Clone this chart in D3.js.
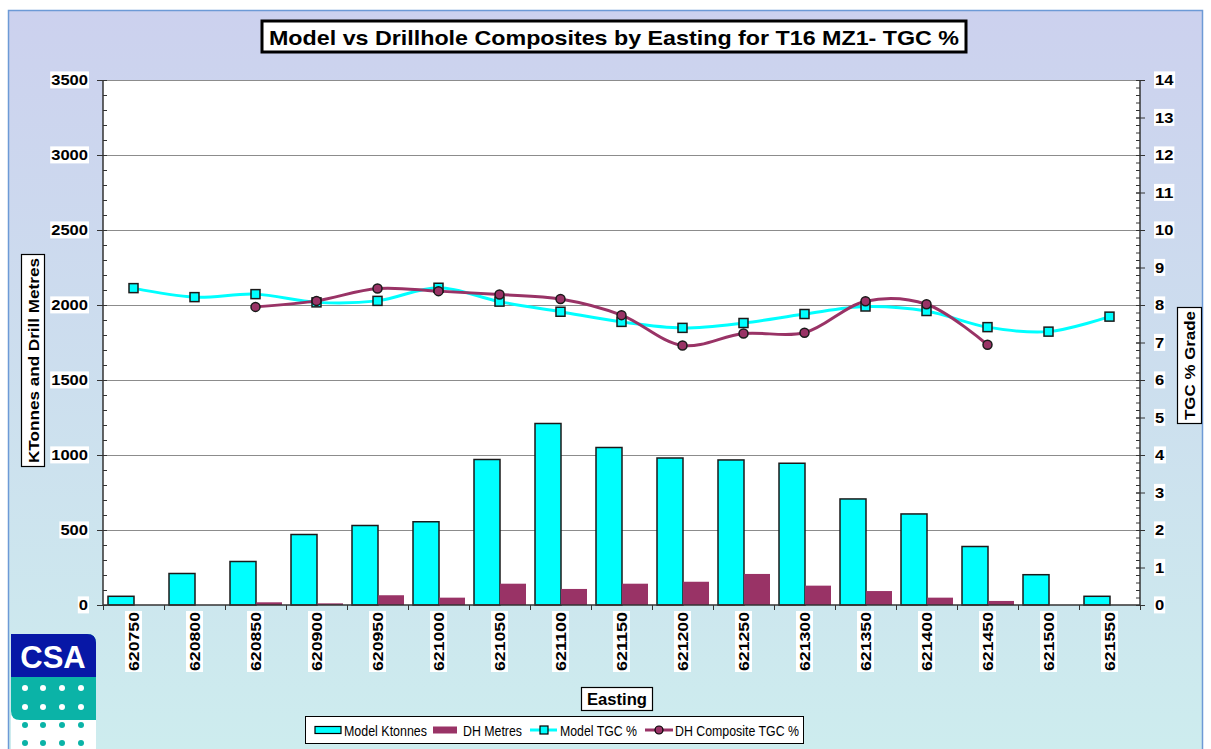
<!DOCTYPE html>
<html>
<head>
<meta charset="utf-8">
<script src="https://cdn.jsdelivr.net/npm/d3@7"></script>
<style>
  body { margin: 0; background: #fff; }
  svg { display: block; font-family: "Liberation Sans", Arial, sans-serif; }
</style>
</head>
<body>
<div id="chart"></div>
<script>
// data
var eastings = ["620750","620800","620850","620900","620950","621000","621050","621100","621150","621200","621250","621300","621350","621400","621450","621500","621550"];
var modelKt  = [58, 210, 290, 470, 530, 555, 970, 1210, 1050, 980, 967, 945, 707, 607, 390, 202, 58];
var dhMetres = [0, 0, 18, 11, 65, 49, 142, 107, 142, 155, 207, 129, 93, 49, 27, 0, 0];
var modelTgc = [8.45, 8.21, 8.29, 8.07, 8.11, 8.46, 8.09, 7.82, 7.55, 7.39, 7.52, 7.76, 7.96, 7.84, 7.41, 7.29, 7.69];
var dhTgc    = [null, null, 7.95, 8.11, 8.44, 8.37, 8.28, 8.16, 7.73, 6.92, 7.24, 7.26, 8.10, 8.02, 6.94, null, null];
var leftTicks = [0, 500, 1000, 1500, 2000, 2500, 3000, 3500];
var rightTicks = [0,1,2,3,4,5,6,7,8,9,10,11,12,13,14];

var W = 1211, H = 749;
var plot = {left: 103, right: 1140, top: 80, bottom: 605};

var svg = d3.select("#chart").append("svg")
    .attr("width", W)
    .attr("height", H);

var defs = svg.append("defs");
var grad = defs.append("linearGradient").attr("id", "bg").attr("x1", 0).attr("y1", 0).attr("x2", 0).attr("y2", 1);
grad.append("stop").attr("offset", "0%").attr("stop-color", "#ccd1ee");
grad.append("stop").attr("offset", "100%").attr("stop-color", "#cdedee");

// chart area background + border
svg.append("rect").attr("x", 0).attr("y", 0).attr("width", W).attr("height", H).attr("fill", "#fff");
svg.append("rect")
    .attr("x", 8.5).attr("y", 10.5)
    .attr("width", 1194).attr("height", 760)
    .attr("fill", "url(#bg)")
    .attr("stroke", "#6d9ad6").attr("stroke-width", 1.5);

// scales
var x = d3.scaleBand().domain(eastings).range([plot.left, plot.right]);
var yL = d3.scaleLinear().domain([0, 3500]).range([plot.bottom, plot.top]);
var yR = d3.scaleLinear().domain([0, 14]).range([plot.bottom, plot.top]);

svg.append("rect")
    .attr("x", plot.left).attr("y", plot.top)
    .attr("width", plot.right - plot.left).attr("height", plot.bottom - plot.top)
    .attr("fill", "#fff");

// gridlines
svg.append("g").selectAll("line")
    .data(leftTicks.filter(function(d) { return d > 0; }))
    .enter().append("line")
    .attr("x1", plot.left).attr("x2", plot.right)
    .attr("y1", function(d) { return yL(d) + 0.5; })
    .attr("y2", function(d) { return yL(d) + 0.5; })
    .attr("stroke", "#8c8c8c").attr("stroke-width", 1.2);

// bars
var bw = 26;
svg.append("g").selectAll("rect")
    .data(modelKt)
    .enter().append("rect")
    .attr("x", function(d, i) { return x(eastings[i]) + 5; })
    .attr("y", function(d) { return yL(d); })
    .attr("width", bw)
    .attr("height", function(d) { return plot.bottom - yL(d); })
    .attr("fill", "#00ffff")
    .attr("stroke", "#1a1a1a").attr("stroke-width", 1.5);

svg.append("g").selectAll("rect")
    .data(dhMetres)
    .enter().append("rect")
    .attr("x", function(d, i) { return x(eastings[i]) + 5 + bw; })
    .attr("y", function(d) { return yL(d); })
    .attr("width", bw)
    .attr("height", function(d) { return plot.bottom - yL(d); })
    .attr("fill", "#993366");

// white box behind tick labels
function tickLabelBg(sel) {
  sel.each(function() {
    var t = d3.select(this);
    var b = this.getBBox();
    d3.select(this.parentNode).insert("rect", function() { return t.node(); })
      .attr("x", b.x - 1).attr("y", b.y).attr("width", b.width + 2).attr("height", b.height)
      .attr("fill", "#fff");
  });
}

// stretch text to the width it has in the picture
function fit(sel, len) {
  sel.attr("textLength", len).attr("lengthAdjust", "spacingAndGlyphs");
}

var axisColor = "#333";
var axL = svg.append("g");
axL.append("line").attr("x1", plot.left).attr("x2", plot.left).attr("y1", plot.top).attr("y2", plot.bottom)
    .attr("stroke", axisColor).attr("stroke-width", 1.5);
axL.selectAll(".minor").data(d3.range(0, 3501, 100)).enter().append("line")
    .attr("x1", plot.left).attr("x2", plot.left + 4)
    .attr("y1", function(d) { return yL(d) + 0.5; }).attr("y2", function(d) { return yL(d) + 0.5; })
    .attr("stroke", axisColor);
axL.selectAll(".major").data(leftTicks).enter().append("line")
    .attr("x1", plot.left - 6).attr("x2", plot.left + 4)
    .attr("y1", function(d) { return yL(d) + 0.5; }).attr("y2", function(d) { return yL(d) + 0.5; })
    .attr("stroke", axisColor);
axL.selectAll("text").data(leftTicks).enter().append("g").append("text")
    .attr("x", 88).attr("y", function(d) { return yL(d); })
    .attr("dy", "0.36em")
    .attr("text-anchor", "end")
    .attr("font-size", 15).attr("font-weight", "bold")
    .attr("textLength", function(d) { return String(d).length * 9.2; })
    .attr("lengthAdjust", "spacingAndGlyphs")
    .text(function(d) { return d; })
    .call(tickLabelBg);

var axR = svg.append("g");
axR.append("line").attr("x1", plot.right).attr("x2", plot.right).attr("y1", plot.top).attr("y2", plot.bottom)
    .attr("stroke", axisColor).attr("stroke-width", 1.5);
axR.selectAll(".minor").data(d3.range(0, 71, 1)).enter().append("line")
    .attr("x1", plot.right - 4).attr("x2", plot.right)
    .attr("y1", function(d) { return yR(d / 5) + 0.5; }).attr("y2", function(d) { return yR(d / 5) + 0.5; })
    .attr("stroke", axisColor);
axR.selectAll(".major").data(rightTicks).enter().append("line")
    .attr("x1", plot.right - 4).attr("x2", plot.right + 5)
    .attr("y1", function(d) { return yR(d) + 0.5; }).attr("y2", function(d) { return yR(d) + 0.5; })
    .attr("stroke", axisColor);
axR.selectAll("text").data(rightTicks).enter().append("g").append("text")
    .attr("x", 1155).attr("y", function(d) { return yR(d); })
    .attr("dy", "0.36em")
    .attr("font-size", 15).attr("font-weight", "bold")
    .attr("textLength", function(d) { return String(d).length * 9.2; })
    .attr("lengthAdjust", "spacingAndGlyphs")
    .text(function(d) { return d; })
    .call(tickLabelBg);

var axB = svg.append("g");
axB.append("line").attr("x1", plot.left).attr("x2", plot.right).attr("y1", plot.bottom).attr("y2", plot.bottom)
    .attr("stroke", axisColor).attr("stroke-width", 1.5);
axB.selectAll(".tk").data(eastings.concat(["end"])).enter().append("line")
    .attr("x1", function(d, i) { return plot.left + i * x.step() + 0.5; })
    .attr("x2", function(d, i) { return plot.left + i * x.step() + 0.5; })
    .attr("y1", plot.bottom).attr("y2", plot.bottom + 5)
    .attr("stroke", axisColor);
axB.selectAll("g.lbl").data(eastings).enter().append("g")
    .attr("transform", function(d) { return "translate(" + (x(d) + x.bandwidth() / 2 + 5.5) + ",612) rotate(-90)"; })
    .append("text")
    .attr("text-anchor", "end")
    .attr("font-size", 15).attr("font-weight", "bold")
    .attr("textLength", 59)
    .attr("lengthAdjust", "spacingAndGlyphs")
    .text(function(d) { return d; })
    .call(tickLabelBg);

// lines
var curve = d3.curveCatmullRom.alpha(0.5);
var lineModel = d3.line()
    .x(function(d, i) { return x(eastings[i]) + x.bandwidth() / 2; })
    .y(function(d) { return yR(d); })
    .curve(curve);
svg.append("path")
    .attr("d", lineModel(modelTgc))
    .attr("fill", "none").attr("stroke", "#00ffff").attr("stroke-width", 3);

var dhPts = [];
dhTgc.forEach(function(d, i) { if (d != null) dhPts.push({e: eastings[i], v: d}); });
var lineDh = d3.line()
    .x(function(d) { return x(d.e) + x.bandwidth() / 2; })
    .y(function(d) { return yR(d.v); })
    .curve(curve);
svg.append("path")
    .attr("d", lineDh(dhPts))
    .attr("fill", "none").attr("stroke", "#993366").attr("stroke-width", 3);

svg.append("g").selectAll("rect")
    .data(modelTgc)
    .enter().append("rect")
    .attr("x", function(d, i) { return x(eastings[i]) + x.bandwidth() / 2 - 4.5; })
    .attr("y", function(d) { return yR(d) - 4.5; })
    .attr("width", 9).attr("height", 9)
    .attr("fill", "#00ffff").attr("stroke", "#1a1a1a").attr("stroke-width", 1.5);

svg.append("g").selectAll("circle")
    .data(dhPts)
    .enter().append("circle")
    .attr("cx", function(d) { return x(d.e) + x.bandwidth() / 2; })
    .attr("cy", function(d) { return yR(d.v); })
    .attr("r", 4.5)
    .attr("fill", "#993366").attr("stroke", "#1a1a1a").attr("stroke-width", 1.5);

// title
svg.append("rect").attr("x", 262).attr("y", 21).attr("width", 704).attr("height", 31)
    .attr("fill", "#fff").attr("stroke", "#000").attr("stroke-width", 3);
svg.append("text").attr("x", 614).attr("y", 44.5)
    .attr("text-anchor", "middle").attr("font-size", 21).attr("font-weight", "bold")
    .text("Model vs Drillhole Composites by Easting for T16 MZ1- TGC %")
    .call(fit, 690);

// axis titles
svg.append("rect").attr("x", 21.5).attr("y", 254.5).attr("width", 23).attr("height", 212)
    .attr("fill", "#fff").attr("stroke", "#000").attr("stroke-width", 1.2);
svg.append("text").attr("transform", "translate(39,360.5) rotate(-90)")
    .attr("text-anchor", "middle").attr("font-size", 15).attr("font-weight", "bold")
    .text("KTonnes and Drill Metres")
    .call(fit, 205);

svg.append("rect").attr("x", 1177.5).attr("y", 307.5).attr("width", 24).attr("height", 116)
    .attr("fill", "#fff").attr("stroke", "#000").attr("stroke-width", 1.2);
svg.append("text").attr("transform", "translate(1195,365.5) rotate(-90)")
    .attr("text-anchor", "middle").attr("font-size", 15).attr("font-weight", "bold")
    .text("TGC % Grade")
    .call(fit, 109);

svg.append("rect").attr("x", 581.5).attr("y", 687.5).attr("width", 71).attr("height", 23)
    .attr("fill", "#fff").attr("stroke", "#000").attr("stroke-width", 1.2);
svg.append("text").attr("x", 617).attr("y", 705)
    .attr("text-anchor", "middle").attr("font-size", 16).attr("font-weight", "bold")
    .text("Easting")
    .call(fit, 60);

// legend
var lg = svg.append("g");
lg.append("rect").attr("x", 305.5).attr("y", 716.5).attr("width", 498).attr("height", 27)
    .attr("fill", "#fff").attr("stroke", "#000").attr("stroke-width", 1);
var ly = 730;
lg.append("rect").attr("x", 315).attr("y", ly - 3.5).attr("width", 26).attr("height", 7)
    .attr("fill", "#00ffff").attr("stroke", "#000").attr("stroke-width", 1.2);
lg.append("text").attr("x", 344).attr("y", ly + 5.5).attr("font-size", 15).text("Model Ktonnes").call(fit, 83);
lg.append("rect").attr("x", 433).attr("y", ly - 3.5).attr("width", 24).attr("height", 7)
    .attr("fill", "#993366");
lg.append("text").attr("x", 463).attr("y", ly + 5.5).attr("font-size", 15).text("DH Metres").call(fit, 59);
lg.append("line").attr("x1", 530).attr("x2", 557).attr("y1", ly).attr("y2", ly)
    .attr("stroke", "#00ffff").attr("stroke-width", 3);
lg.append("rect").attr("x", 540).attr("y", ly - 4).attr("width", 8).attr("height", 8)
    .attr("fill", "#00ffff").attr("stroke", "#000").attr("stroke-width", 1.2);
lg.append("text").attr("x", 560).attr("y", ly + 5.5).attr("font-size", 15).text("Model TGC %").call(fit, 77);
lg.append("line").attr("x1", 645).attr("x2", 673).attr("y1", ly).attr("y2", ly)
    .attr("stroke", "#993366").attr("stroke-width", 3);
lg.append("circle").attr("cx", 659).attr("cy", ly).attr("r", 4)
    .attr("fill", "#993366").attr("stroke", "#000").attr("stroke-width", 1.2);
lg.append("text").attr("x", 675).attr("y", ly + 5.5).attr("font-size", 15).text("DH Composite TGC %").call(fit, 124);

// CSA logo
var logo = svg.append("g");
logo.append("rect").attr("x", 11).attr("y", 677).attr("width", 85).attr("height", 80).attr("fill", "#fff");
logo.append("path")
    .attr("d", "M11,634 H87 Q96,634 96,643 V720 H20 Q11,720 11,711 Z")
    .attr("fill", "#0bb3a7");
logo.append("path")
    .attr("d", "M11,634 H87 Q96,634 96,643 V677 H11 Z")
    .attr("fill", "#0717a6");
logo.append("text").attr("x", 53).attr("y", 668)
    .attr("text-anchor", "middle").attr("font-size", 31).attr("font-weight", "bold")
    .attr("fill", "#fff").text("CSA");
var dotCols = [25, 43, 62, 81];
[[688, "#fff"], [707, "#fff"], [725, "#0bb3a7"], [743, "#0bb3a7"]].forEach(function(r) {
  dotCols.forEach(function(cx) {
    logo.append("circle").attr("cx", cx).attr("cy", r[0]).attr("r", 3).attr("fill", r[1]);
  });
});
</script>
</body>
</html>
